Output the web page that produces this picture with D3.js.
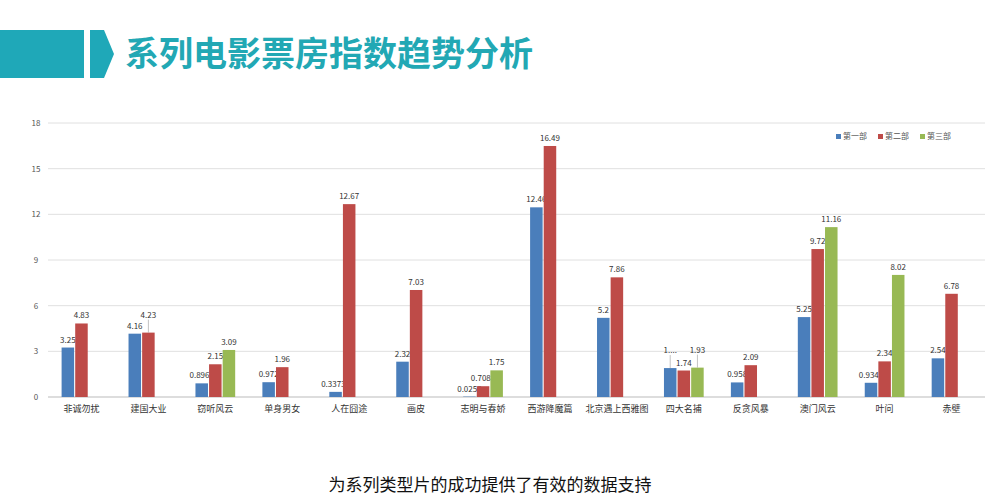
<!DOCTYPE html>
<html><head><meta charset="utf-8">
<script src="https://cdn.jsdelivr.net/npm/d3@7"></script>
<style>body{margin:0;background:#fff;}svg{font-family:"Noto Sans CJK SC",sans-serif;}</style>
</head><body><svg id="c" width="1005" height="504"></svg>
<script>
// data
var films = ["非诚勿扰","建国大业","窃听风云","单身男女","人在囧途","画皮","志明与春娇","西游降魔篇","北京遇上西雅图","四大名捕","反贪风暴","澳门风云","叶问","赤壁"];
var part1 = [3.25,4.16,0.8963,0.972,0.3373,2.32,0.0253,12.46,5.2,1.9,0.958,5.25,0.9342,2.54];
var part2 = [4.83,4.23,2.15,1.96,12.67,7.03,0.7088,16.49,7.86,1.74,2.09,9.72,2.34,6.78];
var part3 = [null,null,3.09,null,null,null,1.75,null,null,1.93,null,11.16,8.02,null];
var labels1 = ["3.25","4.16","0.8963","0.972","0.33733","2.32","0.0253","12.46","5.2","1....","0.958","5.25","0.9342","2.54"];
var labels2 = ["4.83","4.23","2.15","1.96","12.67","7.03","0.7088","16.49","7.86","1.74","2.09","9.72","2.34","6.78"];
// labels that sit higher in the picture, with a leader line
var lifted2 = ["建国大业"];
var lifted3 = ["四大名捕"];
var lifted1 = ["四大名捕"];
var seriesNames = ["第一部","第二部","第三部"];
var colors = ["#4a7ebb","#be4b48","#98b954"];
var yTicks = [0,3,6,9,12,15,18];

var svg = d3.select("#c");

// background header
svg.append("rect").attr("x",0).attr("y",30).attr("width",84).attr("height",48).attr("fill","#1fa8b8");
svg.append("path").attr("d","M90,30 L104,30 L114,54 L104,78 L90,78 Z").attr("fill","#1fa8b8");
svg.append("text").attr("x",125).attr("y",66).attr("font-size",34).attr("font-weight","bold")
  .attr("fill","#22a8b4").text("系列电影票房指数趋势分析");

var x = d3.scaleBand().domain(films).range([48,985]).paddingInner(0);
var x1 = d3.scaleBand().domain([0,1,2]).range([0,x.bandwidth()]).paddingInner(0.08).paddingOuter(1);
var y = d3.scaleLinear().domain([0,18]).range([397,123]);

var g = svg.append("g");
g.selectAll(".grid").data(yTicks).join("line")
  .attr("x1",48).attr("x2",985).attr("y1",d=>y(d)).attr("y2",d=>y(d))
  .attr("stroke",d=>d==0?"#bbb":"#e0e0e0");
g.selectAll(".yt").data(yTicks).join("text")
  .attr("x",36).attr("y",d=>y(d)+3).attr("text-anchor","middle")
  .attr("font-size",8).attr("fill","#555").text(d=>d);

var series = [part1,part2,part3];
var labs = [labels1,labels2,part3.map(v=>v==null?"":String(v))];
var lifts = [lifted1,lifted2,lifted3];
series.forEach(function(vals,si){
  var pts = films.map((f,i)=>({f:f,v:vals[i],l:labs[si][i],up:lifts[si].indexOf(f)>=0?10:0})).filter(d=>d.v!=null);
  g.selectAll(".b"+si).data(pts).join("rect")
    .attr("x",d=>x(d.f)+x1(si)).attr("width",x1.bandwidth())
    .attr("y",d=>y(d.v)).attr("height",d=>y(0)-y(d.v)).attr("fill",colors[si]);
  g.selectAll(".k"+si).data(pts.filter(d=>d.up)).join("line")
    .attr("x1",d=>x(d.f)+x1(si)+x1.bandwidth()/2).attr("x2",d=>x(d.f)+x1(si)+x1.bandwidth()/2)
    .attr("y1",d=>y(d.v)-d.up-3).attr("y2",d=>y(d.v)).attr("stroke","#999").attr("stroke-width",0.6);
  g.selectAll(".l"+si).data(pts).join("text")
    .attr("x",d=>x(d.f)+x1(si)+x1.bandwidth()/2).attr("y",d=>y(d.v)-5-d.up)
    .attr("text-anchor","middle").attr("font-size",8).attr("fill","#333").text(d=>d.l);
});

g.selectAll(".xl").data(films).join("text")
  .attr("x",d=>x(d)+x.bandwidth()/2).attr("y",412).attr("text-anchor","middle")
  .attr("font-size",9).attr("fill","#333").text(d=>d);

// legend
var lg = svg.append("g").attr("transform","translate(836,139)");
seriesNames.forEach(function(n,i){
  lg.append("rect").attr("x",i*42).attr("y",-5).attr("width",5).attr("height",5).attr("fill",colors[i]);
  lg.append("text").attr("x",i*42+7).attr("y",0).attr("font-size",8).attr("fill","#555").text(n);
});

svg.append("text").attr("x",490).attr("y",491).attr("text-anchor","middle")
  .attr("font-size",17).attr("fill","#111").text("为系列类型片的成功提供了有效的数据支持");
</script></body></html>
